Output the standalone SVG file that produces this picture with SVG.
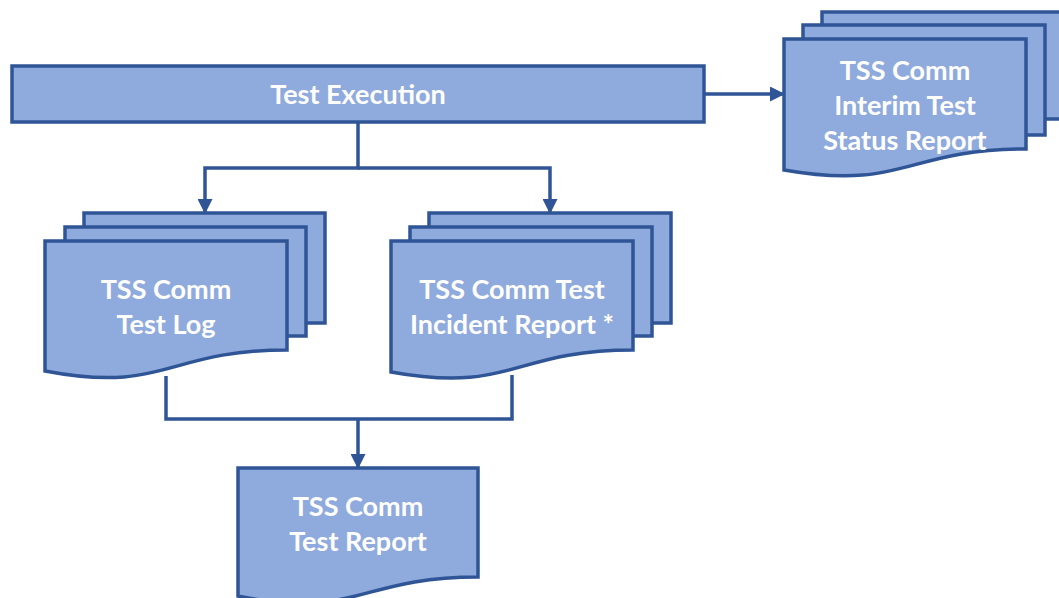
<svg xmlns="http://www.w3.org/2000/svg" width="1059" height="598" viewBox="0 0 1059 598">
<style>
.s{fill:#8FAADC;stroke:#2F5597;stroke-width:3.5}
.t{fill:#FFFFFF;font-family:Lato,"Liberation Sans",sans-serif;font-weight:bold;font-size:27px;text-anchor:middle}
.c{fill:none;stroke:#2F5597;stroke-width:3.5}
</style>
<defs>
<marker id="a" markerUnits="userSpaceOnUse" markerWidth="15" markerHeight="15" refX="14" refY="7.5" orient="auto">
<path d="M0,0 L15,7.5 L0,15 Z" fill="#2F5597"/>
</marker>
</defs>
<rect width="1059" height="598" fill="#FFFFFF"/>
<g id="connectors">
<path class="c" d="M704,94 H784" marker-end="url(#a)"/>
<path class="c" d="M358,122 V168 H205 V213" marker-end="url(#a)"/>
<path class="c" d="M358,168 H550 V213" marker-end="url(#a)"/>
<path class="c" d="M166,376 V419 H512 V375"/>
<path class="c" d="M358,419 V468" marker-end="url(#a)"/>
</g>
<g id="test-execution">
<rect class="s" x="12" y="66" width="692" height="56"/>
<text class="t" x="358" y="104">Test Execution</text>
</g>
<g id="interim-report">
<rect class="s" x="822" y="12" width="242" height="107"/>
<rect class="s" x="803" y="25" width="242" height="110"/>
<path class="s" d="M784,39 H1026 V149 C905,149 905,191 784,170 Z"/>
<text class="t" x="905" y="80">TSS Comm</text>
<text class="t" x="905" y="115">Interim Test</text>
<text class="t" x="905" y="150">Status Report</text>
</g>
<g id="test-log">
<rect class="s" x="84" y="213" width="241" height="110"/>
<rect class="s" x="65" y="227" width="241" height="109"/>
<path class="s" d="M45,241 H287 V350 C166,350 166,394 45,371 Z"/>
<text class="t" x="166" y="299">TSS Comm</text>
<text class="t" x="166" y="334">Test Log</text>
</g>
<g id="incident-report">
<rect class="s" x="429" y="213" width="242" height="110"/>
<rect class="s" x="410" y="227" width="242" height="109"/>
<path class="s" d="M391,241 H633 V350 C512,350 512,394 391,372 Z"/>
<text class="t" x="512" y="299">TSS Comm Test</text>
<text class="t" x="512" y="334">Incident Report *</text>
</g>
<g id="test-report">
<path class="s" d="M238,468 H478 V577 C358,577 358,620 238,596 Z"/>
<text class="t" x="358" y="516">TSS Comm</text>
<text class="t" x="358" y="551">Test Report</text>
</g>
</svg>
